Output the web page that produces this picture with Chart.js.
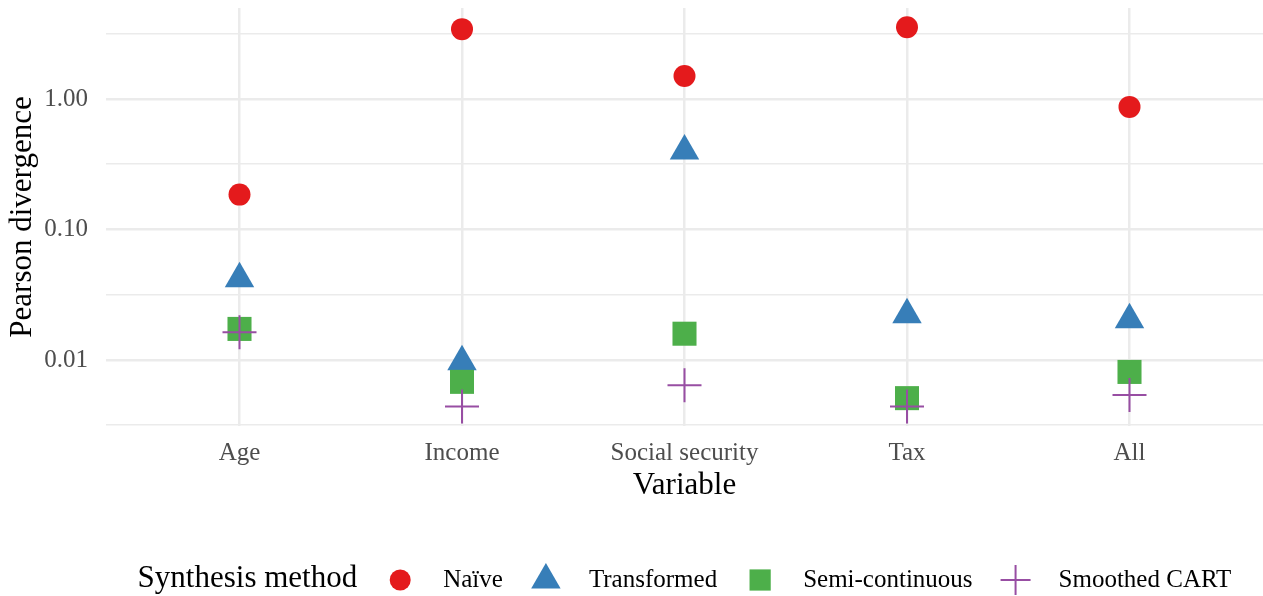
<!DOCTYPE html>
<html>
<head>
<meta charset="utf-8">
<title>Pearson divergence by variable and synthesis method</title>
<script src="https://cdn.jsdelivr.net/npm/chart.js@4/dist/chart.umd.min.js"></script>
<style>
  html, body { margin: 0; padding: 0; background: #ffffff; }
  #wrap { width: 1263px; height: 596px; position: relative; }
</style>
</head>
<body>
<div id="wrap"><canvas id="chart" width="1263" height="596"></canvas></div>
<script>
// Variables on the x axis
const variables = ['Age', 'Income', 'Social security', 'Tax', 'All'];

// Pearson divergence per synthesis method, one value per variable
const naive          = [0.185, 3.43, 1.50, 3.55, 0.87];
const transformed    = [0.042, 0.0097, 0.40, 0.0222, 0.0203];
const semiContinuous = [0.0173, 0.0068, 0.0159, 0.0051, 0.0081];
const smoothedCart   = [0.0163, 0.0044, 0.0064, 0.0044, 0.0054];

const methodNames = ['Naïve', 'Transformed', 'Semi-continuous', 'Smoothed CART'];

// Log-axis breaks: labelled majors and unlabelled minors
const yMajorTicks  = [0.01, 0.1, 1];
const yMajorLabels = ['0.01', '0.10', '1.00'];
const yMinorTicks  = [0.003162, 0.03162, 0.3162, 3.162];

const SERIF = "'Liberation Serif', 'Times New Roman', serif";
const GRID = '#EBEBEB';

function toPoints(values) {
  return values.map((v, i) => ({ x: i + 1, y: v }));
}

// Fixed axis sizes, no extra label overhang padding
function fixSize(prop, size) {
  return (scale) => {
    scale[prop] = size;
    scale.paddingTop = 0;
    scale.paddingBottom = 0;
    scale.paddingLeft = 0;
    scale.paddingRight = 0;
  };
}

const styles = [
  { pointStyle: 'circle',   radius: 11, color: '#E41A1C', border: 0, legendRadius: 10.5 },
  { pointStyle: 'triangle', radius: 17, color: '#377EB8', border: 0, legendRadius: 17 },
  { pointStyle: 'rect',     radius: 17, color: '#4DAF4A', border: 0, legendRadius: 15 },
  { pointStyle: 'cross',    radius: 17, color: '#984EA3', border: 2, legendRadius: 15 }
];
const seriesValues = [naive, transformed, semiContinuous, smoothedCart];

const datasets = seriesValues.map((vals, k) => ({
  label: methodNames[k],
  data: toPoints(vals),
  pointStyle: styles[k].pointStyle,
  pointRadius: styles[k].radius,
  pointHoverRadius: styles[k].radius,
  pointBackgroundColor: styles[k].color,
  pointBorderColor: styles[k].color,
  pointBorderWidth: styles[k].border,
  backgroundColor: styles[k].color,
  borderColor: styles[k].color,
  legendRadius: styles[k].legendRadius,
  showLine: false,
  clip: false,
  order: seriesValues.length - k
}));

// Legend row at the bottom: title, then marker + label for each method
const bottomLegend = {
  id: 'bottomLegend',
  afterDraw(chart) {
    const ctx = chart.ctx;
    const area = chart.chartArea;
    const cx = (area.left + area.right) / 2;
    const gap = 43;
    const baseline = 587;
    const markerY = 580;
    ctx.save();
    ctx.textBaseline = 'alphabetic';
    ctx.textAlign = 'left';
    const titleFont = '31px ' + SERIF;
    const labelFont = '25px ' + SERIF;
    const title = 'Synthesis method';
    ctx.font = titleFont;
    const titleW = ctx.measureText(title).width;
    ctx.font = labelFont;
    const labelWs = chart.data.datasets.map(d => ctx.measureText(d.label).width);
    const n = labelWs.length;
    const total = titleW + gap + labelWs.reduce((a, b) => a + b, 0) + n * gap + (n - 1) * gap;
    let x = cx - total / 2;
    ctx.fillStyle = '#000000';
    ctx.font = titleFont;
    ctx.fillText(title, x, baseline);
    x += titleW + gap;
    chart.data.datasets.forEach((d, i) => {
      ctx.save();
      ctx.fillStyle = d.pointBackgroundColor;
      ctx.strokeStyle = d.pointBorderColor;
      ctx.lineWidth = d.pointBorderWidth;
      Chart.helpers.drawPoint(ctx, {
        pointStyle: d.pointStyle,
        radius: d.legendRadius,
        rotation: 0,
        borderWidth: d.pointBorderWidth
      }, x, markerY);
      ctx.restore();
      ctx.font = labelFont;
      ctx.fillStyle = '#000000';
      ctx.fillText(d.label, x + gap, baseline);
      x += gap + labelWs[i] + gap;
    });
    ctx.restore();
  }
};

new Chart(document.getElementById('chart'), {
  type: 'scatter',
  data: { datasets },
  plugins: [bottomLegend],
  options: {
    responsive: false,
    devicePixelRatio: 1,
    animation: false,
    events: [],
    layout: { autoPadding: false, padding: { top: 8, right: 0, bottom: 91, left: 0 } },
    plugins: {
      legend: { display: false },
      tooltip: { enabled: false },
      title: { display: false }
    },
    scales: {
      x: {
        type: 'linear',
        min: 0.4,
        max: 5.6,
        afterBuildTicks(scale) {
          scale.ticks = variables.map((_, i) => ({ value: i + 1 }));
        },
        afterFit: fixSize('height', 79),
        ticks: {
          autoSkip: false,
          maxRotation: 0,
          padding: 15,
          color: '#4D4D4D',
          font: { family: SERIF, size: 25, lineHeight: 1 },
          callback: (v) => variables[Math.round(v) - 1] ?? ''
        },
        grid: { color: GRID, lineWidth: 2.5, drawTicks: false },
        border: { display: false },
        title: {
          display: true,
          text: 'Variable',
          color: '#000000',
          font: { family: SERIF, size: 31, lineHeight: 1 },
          padding: { top: 0, bottom: 4 }
        }
      },
      y: {
        type: 'logarithmic',
        min: 0.00312,
        max: 4.98,
        afterBuildTicks(scale) {
          scale.ticks = [...yMinorTicks, ...yMajorTicks]
            .sort((a, b) => a - b)
            .map(v => ({ value: v }));
        },
        afterFit: fixSize('width', 106),
        ticks: {
          autoSkip: false,
          padding: 18,
          color: '#4D4D4D',
          font: { family: SERIF, size: 25, lineHeight: 1 },
          callback: (v) => {
            const k = yMajorTicks.indexOf(v);
            return k >= 0 ? yMajorLabels[k] : '';
          }
        },
        grid: {
          color: GRID,
          drawTicks: false,
          lineWidth: (c) => (c.tick && yMajorTicks.includes(c.tick.value)) ? 2.5 : 1.5
        },
        border: { display: false },
        title: {
          display: true,
          text: 'Pearson divergence',
          color: '#000000',
          font: { family: SERIF, size: 31, lineHeight: 1 },
          padding: { top: 7, bottom: 0 }
        }
      }
    }
  }
});
</script>
</body>
</html>
